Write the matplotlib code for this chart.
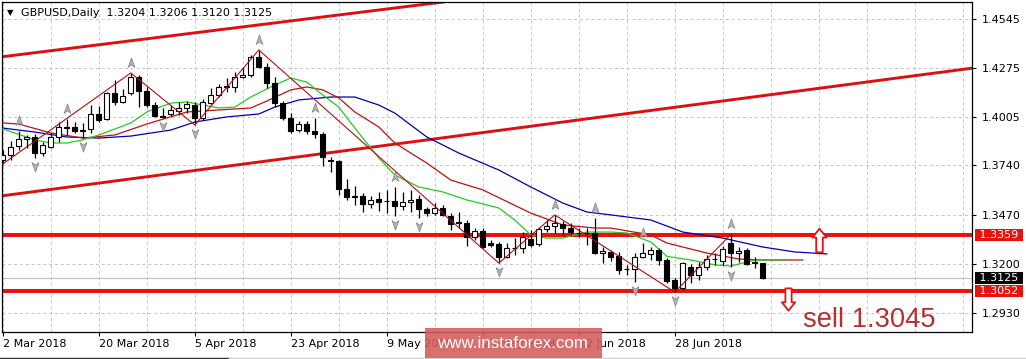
import numpy as np
import matplotlib
matplotlib.use('Agg')
import matplotlib.pyplot as plt
from matplotlib.path import Path
from matplotlib.patches import Rectangle
from matplotlib.lines import Line2D

# GBPUSD daily candles, 2 Mar 2018 .. 13 Jul 2018
opens = [1.3770, 1.3797, 1.3847, 1.3885, 1.3896, 1.3808, 1.3841, 1.3896, 1.3951, 1.3951,
         1.3929, 1.3940, 1.4022, 1.3995, 1.4137, 1.4088, 1.4137, 1.4225, 1.4148, 1.4071,
         1.4011, 1.4022, 1.4038, 1.4055, 1.4071, 1.4000, 1.4082, 1.4126, 1.4170, 1.4170,
         1.4225, 1.4236, 1.4334, 1.4280, 1.4192, 1.4082, 1.4000, 1.3934, 1.3967, 1.3929,
         1.3912, 1.3770, 1.3764, 1.3611, 1.3567, 1.3573, 1.3529, 1.3556, 1.3545, 1.3545,
         1.3518, 1.3540, 1.3556, 1.3501, 1.3479, 1.3507, 1.3463, 1.3430, 1.3425, 1.3348,
         1.3381, 1.3315, 1.3310, 1.3238, 1.3288, 1.3288, 1.3337, 1.3310, 1.3392, 1.3408,
         1.3419, 1.3397, 1.3370, 1.3370, 1.3370, 1.3260, 1.3266, 1.3244, 1.3173, 1.3173,
         1.3238, 1.3255, 1.3277, 1.3222, 1.3112, 1.3068, 1.3184, 1.3140, 1.3184, 1.3227,
         1.3216, 1.3315, 1.3260, 1.3277, 1.3211, 1.3204]
highs = [1.3825, 1.3874, 1.3929, 1.3907, 1.3912, 1.3869, 1.3918, 1.3978, 1.3995, 1.3978,
         1.3973, 1.4071, 1.4066, 1.4143, 1.4208, 1.4159, 1.4247, 1.4236, 1.4170, 1.4088,
         1.4055, 1.4071, 1.4088, 1.4093, 1.4088, 1.4104, 1.4164, 1.4186, 1.4219, 1.4252,
         1.4280, 1.4345, 1.4373, 1.4301, 1.4225, 1.4093, 1.4027, 1.3984, 1.3984, 1.4000,
         1.3923, 1.3786, 1.3770, 1.3666, 1.3627, 1.3589, 1.3573, 1.3595, 1.3606, 1.3622,
         1.3595, 1.3606, 1.3578, 1.3512, 1.3534, 1.3523, 1.3479, 1.3485, 1.3441, 1.3397,
         1.3397, 1.3331, 1.3321, 1.3315, 1.3342, 1.3375, 1.3386, 1.3403, 1.3441, 1.3469,
         1.3436, 1.3425, 1.3397, 1.3397, 1.3452, 1.3293, 1.3277, 1.3266, 1.3195, 1.3260,
         1.3315, 1.3293, 1.3288, 1.3233, 1.3123, 1.3211, 1.3200, 1.3211, 1.3249, 1.3260,
         1.3299, 1.3362, 1.3293, 1.3288, 1.3238, 1.3206]
lows = [1.3748, 1.3770, 1.3825, 1.3836, 1.3781, 1.3792, 1.3836, 1.3869, 1.3907, 1.3918,
        1.3890, 1.3918, 1.3978, 1.3989, 1.4071, 1.4082, 1.4126, 1.4060, 1.4060, 1.4006,
        1.4000, 1.4011, 1.4017, 1.4027, 1.3962, 1.3989, 1.4077, 1.4115, 1.4143, 1.4143,
        1.4219, 1.4225, 1.4274, 1.4164, 1.4060, 1.3989, 1.3918, 1.3923, 1.3912, 1.3890,
        1.3737, 1.3704, 1.3578, 1.3551, 1.3523, 1.3485, 1.3507, 1.3490, 1.3479, 1.3463,
        1.3496, 1.3485, 1.3452, 1.3463, 1.3469, 1.3463, 1.3386, 1.3397, 1.3299, 1.3331,
        1.3288, 1.3293, 1.3205, 1.3233, 1.3249, 1.3260, 1.3293, 1.3299, 1.3375, 1.3370,
        1.3353, 1.3359, 1.3348, 1.3304, 1.3255, 1.3205, 1.3216, 1.3145, 1.3140, 1.3101,
        1.3233, 1.3222, 1.3195, 1.3096, 1.3046, 1.3058, 1.3096, 1.3112, 1.3167, 1.3195,
        1.3195, 1.3184, 1.3211, 1.3195, 1.3178, 1.3120]
closes = [1.3797, 1.3841, 1.3885, 1.3896, 1.3808, 1.3852, 1.3896, 1.3951, 1.3945, 1.3929,
          1.3934, 1.4022, 1.3989, 1.4137, 1.4088, 1.4121, 1.4225, 1.4148, 1.4071, 1.4011,
          1.4008, 1.4044, 1.4055, 1.4077, 1.4000, 1.4088, 1.4126, 1.4170, 1.4175, 1.4225,
          1.4236, 1.4334, 1.4280, 1.4192, 1.4082, 1.4000, 1.3929, 1.3967, 1.3929, 1.3912,
          1.3786, 1.3764, 1.3611, 1.3567, 1.3573, 1.3529, 1.3551, 1.3540, 1.3543, 1.3518,
          1.3540, 1.3551, 1.3501, 1.3479, 1.3507, 1.3469, 1.3419, 1.3425, 1.3348, 1.3381,
          1.3293, 1.3304, 1.3238, 1.3288, 1.3286, 1.3348, 1.3304, 1.3392, 1.3408, 1.3425,
          1.3397, 1.3375, 1.3372, 1.3368, 1.3260, 1.3271, 1.3238, 1.3167, 1.3170, 1.3238,
          1.3260, 1.3277, 1.3222, 1.3107, 1.3068, 1.3205, 1.3140, 1.3184, 1.3227, 1.3230,
          1.3282, 1.3260, 1.3271, 1.3200, 1.3205, 1.3125]

date_ticks = [0, 12, 24, 36, 48, 60, 72, 84]
date_labels = ['2 Mar 2018', '20 Mar 2018', '5 Apr 2018', '23 Apr 2018',
               '9 May 2018', '25 May 2018', '12 Jun 2018', '28 Jun 2018']
price_ticks = [1.2930, 1.3200, 1.3470, 1.3740, 1.4005, 1.4275, 1.4545]

# Alligator (jaw / teeth / lips), shifted lines run past the last bar
jaw_x = [0, 4, 8, 12, 16, 21, 24, 28, 32, 34, 37, 41, 44, 47, 49, 53, 57, 62, 66, 70, 73, 76,
         81, 85, 90, 95, 99, 103]
jaw_y = [1.3945, 1.3923, 1.3896, 1.3890, 1.3901, 1.3934, 1.3978, 1.4006, 1.4022, 1.4060,
         1.4099, 1.4115, 1.4115, 1.4071, 1.4027, 1.3896, 1.3808, 1.3715, 1.3622, 1.3534,
         1.3485, 1.3469, 1.3441, 1.3375, 1.3342, 1.3293, 1.3266, 1.3255]
teeth_x = [0, 2, 6, 10, 14, 18, 23, 27, 31, 33, 36, 38, 40, 42, 44, 47, 49, 53, 56, 60, 66,
           70, 74, 76, 81, 83, 88, 92, 95, 100]
teeth_y = [1.3973, 1.3967, 1.3918, 1.3890, 1.3907, 1.3967, 1.4033, 1.4044, 1.4055, 1.4093,
           1.4154, 1.4170, 1.4154, 1.4110, 1.4033, 1.3951, 1.3863, 1.3753, 1.3660, 1.3606,
           1.3479, 1.3414, 1.3397, 1.3397, 1.3359, 1.3315, 1.3260, 1.3227, 1.3222, 1.3222]
lips_x = [0, 4, 6, 8, 10, 12, 16, 18, 21, 23, 25, 27, 29, 31, 34, 36, 38, 40, 42, 43.5, 45.5,
          47, 49, 52, 55, 58, 62, 64, 66, 68, 70, 73, 76, 78, 81, 83, 86, 89, 91, 94, 98]
lips_y = [1.3940, 1.3880, 1.3863, 1.3863, 1.3880, 1.3907, 1.3973, 1.4033, 1.4082, 1.4088,
          1.4071, 1.4055, 1.4060, 1.4115, 1.4181, 1.4219, 1.4197, 1.4126, 1.4060, 1.3973,
          1.3863, 1.3781, 1.3688, 1.3622, 1.3595, 1.3551, 1.3507, 1.3441, 1.3359, 1.3342,
          1.3342, 1.3375, 1.3375, 1.3370, 1.3321, 1.3242, 1.3222, 1.3195, 1.3189, 1.3222,
          1.3222]

# ZigZag pivots and Bill Williams fractals (bar numbers)
zz_bars = [0, 16, 24, 32, 62, 69, 84, 91]
frac_up = [2, 8, 16, 32, 39, 49, 69, 74, 80, 91]
frac_dn = [4, 10, 20, 24, 49, 52, 62, 79, 84, 91]

# user drawn objects
chan_upper = [(0, 1.4336), (54, 1.4630)]
chan_lower = [(0, 1.3574), (100, 1.4151)]
level_hi = 1.3359
level_lo = 1.3052
bid = 1.3125
arrow_up_at = (102, 1.3331)
arrow_dn_at = (98.1, 1.3008)
title = 'GBPUSD,Daily  1.3204 1.3206 1.3120 1.3125'

RED = '#e8130f'
W, H = 1026, 359

plt.rcParams['font.family'] = 'DejaVu Sans'
fig = plt.figure(figsize=(W / 100, H / 100), dpi=100, facecolor='white')
ax = fig.add_axes([2 / W, 27 / H, 970 / W, 330 / H])
ax.set_xlim(-0.1, 121.15)
ax.set_ylim(1.28273, 1.46357)

# grid + axes
ax.set_yticks(price_ticks)
ax.set_yticklabels([f'{v:.4f}' for v in price_ticks])
ax.yaxis.tick_right()
ax.set_xticks(date_ticks)
ax.set_xticklabels(date_labels, ha='left')
ax.set_xticks(np.arange(0, 122, 6), minor=True)
ax.tick_params(axis='y', which='major', length=3, pad=4, labelsize=8, width=0.8)
ax.tick_params(axis='x', which='major', length=3, pad=2, labelsize=8, width=0.8)
ax.tick_params(axis='x', which='minor', length=0)
grid_kw = dict(color='#c4c4c4', linewidth=0.7, linestyle=(0, (3, 3)))
ax.xaxis.grid(True, which='both', **grid_kw)
ax.yaxis.grid(True, which='major', **grid_kw)
ax.set_axisbelow(True)
for sp in ax.spines.values():
    sp.set_color('black')
    sp.set_linewidth(0.9)

# trend channel and levels
ax.axline(*chan_upper, color='#dc1010', linewidth=2.1, zorder=2)
ax.axline(*chan_lower, color='#dc1010', linewidth=2.1, zorder=2)
ax.axhline(bid, color='#c0c0c0', linewidth=0.8, zorder=1)
ax.axhline(level_hi, color=RED, linewidth=2.9, zorder=2)
ax.axhline(level_lo, color=RED, linewidth=2.9, zorder=2)

# alligator
ax.plot(jaw_x, jaw_y, color='#0000b0', linewidth=0.9, zorder=3)
ax.plot(teeth_x, teeth_y, color='#c01010', linewidth=0.9, zorder=3)
ax.plot(lips_x, lips_y, color='#22cc22', linewidth=0.9, zorder=3)

# candles
x = np.arange(len(opens))
o, hi, lo, c = map(np.array, (opens, highs, lows, closes))
bull = c >= o
ax.vlines(x, lo, hi, color='black', linewidth=0.9, zorder=4)
ax.bar(x[bull], c[bull] - o[bull], bottom=o[bull], width=0.62, color='white',
       edgecolor='black', linewidth=0.8, zorder=5)
ax.bar(x[~bull], o[~bull] - c[~bull], bottom=c[~bull], width=0.62, color='black',
       edgecolor='black', linewidth=0.8, zorder=5)

# zigzag over the swing points
zz_y = [lo[b] if k % 2 == 0 else hi[b] for k, b in enumerate(zz_bars)]
ax.plot(zz_bars, zz_y, color='#b01010', linewidth=0.8, zorder=6)

# fractal arrows
up_path = Path([(0, 1), (0.6, -0.7), (0, -0.25), (-0.6, -0.7), (0, 1)],
               [Path.MOVETO, Path.LINETO, Path.LINETO, Path.LINETO, Path.CLOSEPOLY])
dn_path = Path([(0, -1), (0.6, 0.7), (0, 0.25), (-0.6, 0.7), (0, -1)],
               [Path.MOVETO, Path.LINETO, Path.LINETO, Path.LINETO, Path.CLOSEPOLY])
ax.plot(frac_up, hi[frac_up] + 0.0055, linestyle='none', marker=up_path, markersize=8,
        markerfacecolor='#b4b4b4', markeredgecolor='#8c8c8c', markeredgewidth=0.6, zorder=7)
ax.plot(frac_dn, lo[frac_dn] - 0.0045, linestyle='none', marker=dn_path, markersize=8,
        markerfacecolor='#b4b4b4', markeredgecolor='#8c8c8c', markeredgewidth=0.6, zorder=7)

# hollow signal arrows
big_up = Path([(0, 1), (0.6, 0.25), (0.28, 0.25), (0.28, -1), (-0.28, -1), (-0.28, 0.25),
               (-0.6, 0.25), (0, 1)],
              [Path.MOVETO] + [Path.LINETO] * 6 + [Path.CLOSEPOLY])
big_dn = Path([(0, -1), (0.6, -0.25), (0.28, -0.25), (0.28, 1), (-0.28, 1), (-0.28, -0.25),
               (-0.6, -0.25), (0, -1)],
              [Path.MOVETO] + [Path.LINETO] * 6 + [Path.CLOSEPOLY])
ax.plot(*arrow_up_at, marker=big_up, markersize=17, markerfacecolor='white',
        markeredgecolor=RED, markeredgewidth=1.3, zorder=8)
ax.plot(*arrow_dn_at, marker=big_dn, markersize=16, markerfacecolor='white',
        markeredgecolor=RED, markeredgewidth=1.3, zorder=8)

# price boxes on the scale
for val, bg in [(level_hi, RED), (bid, 'black'), (level_lo, RED)]:
    ax.annotate(f' {val:.4f} ', xy=(1, val), xycoords=('axes fraction', 'data'),
                xytext=(3.2, 0), textcoords='offset points', ha='left', va='center',
                fontsize=8, color='white', annotation_clip=False, zorder=9,
                bbox=dict(boxstyle='square,pad=0.1', fc=bg, ec='none'))

# texts
fig.text(7 / W, 1 - 13 / H, '\u25bc', fontsize=6, va='center')
fig.text(21 / W, 1 - 13 / H, title, fontsize=8, va='center')
fig.text(803 / W, (H - 327) / H, 'sell 1.3045', fontsize=19.6, color='#b3302e',
         family='Liberation Sans', va='baseline')

# watermark (sits over the date labels, as in the original)
fig.patches.append(Rectangle((425 / W, 1 / H), 177 / W, 30 / H, transform=fig.transFigure,
                             facecolor='#d45c5c', alpha=0.88, edgecolor='none', zorder=10))
fig.text(512 / W, (H - 343) / H, 'www.instaforex.com', fontsize=12.2, color='white',
         family='Liberation Sans', ha='center', va='center', zorder=11)

# scrollbar strip at the bottom
fig.add_artist(Line2D([0, 229 / W], [1.5 / H, 1.5 / H], color='#303030', linewidth=1,
                      transform=fig.transFigure))
fig.add_artist(Line2D([229 / W, 1], [1.5 / H, 1.5 / H], color='#d0d0d0', linewidth=1,
                      transform=fig.transFigure))

fig.savefig('out.png', dpi=100, facecolor='white')
